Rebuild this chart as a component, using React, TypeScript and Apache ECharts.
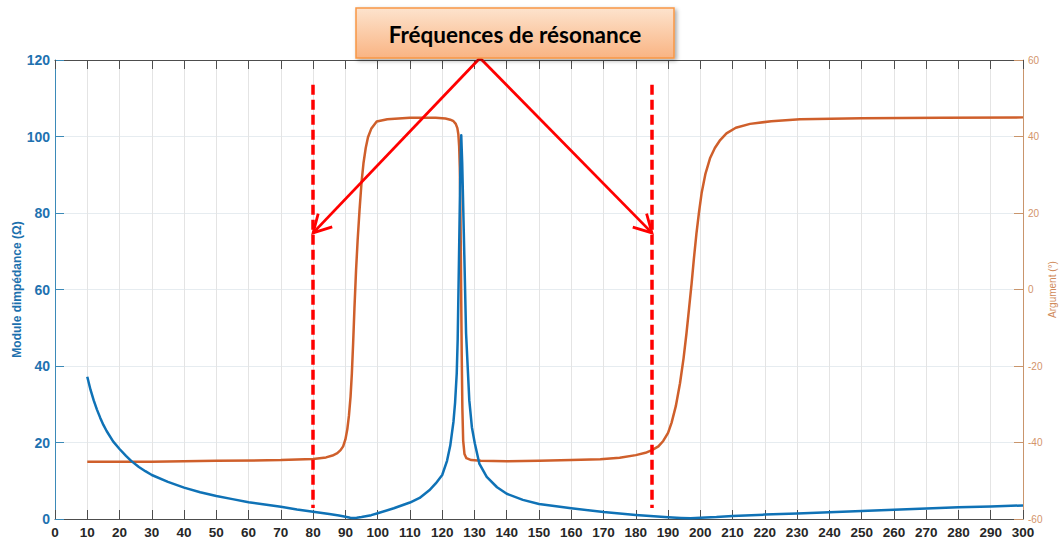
import React, { useEffect, useRef } from "react";
import * as echarts from "echarts";

// Frequency (x) and impedance modulus (left axis, Ω)
const impFreq = [10, 11, 12, 13, 14, 15, 16, 18, 20, 22, 23.6, 26, 28, 30, 35, 40, 45, 50, 55, 60, 65, 70, 75, 80, 85, 88, 90, 91.5, 92.3, 93.5, 95, 98, 100, 105, 110, 113, 116, 118, 120, 121.5, 122.5, 123.5, 124, 124.5, 124.8, 125.2, 125.6, 125.9, 126.2, 126.7, 127.4, 128.4, 129.2, 130.1, 131.5, 133.8, 137, 140, 145, 150, 160, 170, 180, 190, 194, 197, 200, 205, 210, 220, 230, 240, 250, 260, 270, 280, 290, 300];
const impVal = [37.2, 33.8, 31, 28.6, 26.5, 24.6, 23, 20.3, 18.3, 16.5, 15.2, 13.6, 12.5, 11.5, 9.7, 8.2, 7.0, 6.0, 5.2, 4.4, 3.8, 3.2, 2.5, 1.9, 1.3, 0.9, 0.6, 0.35, 0.25, 0.3, 0.5, 1.0, 1.5, 2.8, 4.3, 5.5, 7.5, 9.3, 11.5, 15.2, 19.2, 25.5, 30.5, 38, 47, 68, 90, 100.3, 93, 74.7, 48.5, 31, 24, 19.8, 14.5, 11, 8.3, 6.6, 5.0, 3.9, 2.8, 1.8, 1.05, 0.45, 0.28, 0.2, 0.3, 0.5, 0.8, 1.15, 1.45, 1.75, 2.1, 2.4, 2.75, 3.05, 3.3, 3.55];

// Frequency (x) and argument (right axis, °)
const argFreq = [10, 30, 50, 70, 80, 84, 86, 87.5, 88.5, 89.3, 90, 90.6, 91.1, 91.6, 92, 92.4, 92.8, 93.3, 93.8, 94.4, 95, 95.6, 96.3, 97, 98, 99.7, 103, 110, 118, 121, 122.5, 123.5, 124.2, 124.7, 125, 125.25, 125.45, 125.6, 125.75, 125.9, 126.05, 126.25, 126.5, 126.9, 127.5, 129, 132, 140, 150, 160, 169, 175, 180, 183, 185, 187, 188.5, 190, 191.1, 192.4, 193.7, 194.8, 195.7, 196.5, 197.3, 198, 198.8, 199.6, 200.4, 201.6, 203, 204.5, 206, 208.1, 211, 215.4, 222, 230.9, 250, 275, 300];
const argVal = [-45, -45, -44.8, -44.6, -44.3, -43.9, -43.4, -42.8, -42, -41, -39.2, -36.5, -33, -28, -22, -14, -5, 5, 13, 21, 28, 33, 37, 39.8, 42, 43.9, 44.5, 44.9, 44.9, 44.7, 44.4, 44, 43.3, 42.2, 40.6, 37.5, 32, 24, 12, -3, -17, -31, -39.5, -43, -44.1, -44.6, -44.8, -44.9, -44.8, -44.6, -44.4, -44, -43.3, -42.7, -42, -41, -39.6, -37.5, -34.8, -30.5, -24.5, -18, -11.5, -5, 1.6, 8, 14.7, 20.3, 25.2, 30.3, 34.3, 37, 38.9, 40.8, 42.3, 43.3, 44, 44.5, 44.8, 44.9, 45];

// Resonance frequencies marked by dashed lines
const resonanceFreqs = [80, 185];
const resonanceSpan = [113.5, 2.9];
const arrowTipLevel = 74.8;

const calloutTitle = "Fréquences de résonance";
const leftName = "Module dimpédance (Ω)";
const rightName = "Argument (°)";

const BLUE = "#0f72b6";
const ORANGE = "#cf5f2b";

export default function App() {
  const ref = useRef<HTMLDivElement>(null);
  useEffect(() => {
    if (!ref.current) return;
    const chart = echarts.init(ref.current, undefined, { renderer: "svg" });
    const impData = impFreq.map((f, i) => [f, impVal[i]]);
    const argData = argFreq.map((f, i) => [f, argVal[i]]);
    const labelFont = "'Liberation Sans', Arial, sans-serif";
    chart.setOption({
      animation: false,
      backgroundColor: "#ffffff",
      grid: { left: 55, right: 37, top: 60, bottom: 25, containLabel: false, outerBoundsMode: "none" },
      xAxis: [
        {
          type: "value",
          min: 0,
          max: 300,
          interval: 10,
          position: "bottom",
          axisLine: { show: true, onZero: false, lineStyle: { color: "#4d4d4d", width: 1 } },
          axisTick: { show: true, inside: true, length: 9, lineStyle: { color: "#4d4d4d" } },
          axisLabel: { color: "#262626", fontSize: 13.5, fontWeight: "bold", fontFamily: labelFont, margin: 6 },
          splitLine: { show: true, lineStyle: { color: "#e4e4e4", width: 1 } },
        },
        {
          type: "value",
          min: 0,
          max: 300,
          interval: 10,
          position: "top",
          axisLine: { show: true, onZero: false, lineStyle: { color: "#4d4d4d", width: 1 } },
          axisTick: { show: true, inside: true, length: 9, lineStyle: { color: "#4d4d4d" } },
          axisLabel: { show: false },
          splitLine: { show: false },
        },
      ],
      yAxis: [
        {
          type: "value",
          min: 0,
          max: 120,
          interval: 20,
          position: "left",
          name: leftName,
          nameLocation: "middle",
          nameRotate: 90,
          nameGap: 32,
          nameMoveOverlap: false,
          nameTextStyle: { color: "#1c70ad", fontSize: 12, fontWeight: "bold", fontFamily: labelFont },
          axisLine: { show: true, onZero: false, lineStyle: { color: "#3b8ab8", width: 1 } },
          axisTick: { show: true, inside: true, length: 9, lineStyle: { color: "#3b8ab8" } },
          axisLabel: { color: "#1f72b0", fontSize: 14, fontWeight: "bold", fontFamily: labelFont, margin: 5 },
          splitLine: { show: true, lineStyle: { color: "#e6ecf0", width: 1 } },
        },
        {
          type: "value",
          min: -60,
          max: 60,
          interval: 20,
          position: "right",
          name: rightName,
          nameLocation: "middle",
          nameRotate: 90,
          nameGap: 24,
          nameMoveOverlap: false,
          nameTextStyle: { color: "#d08a5a", fontSize: 10, fontFamily: labelFont },
          axisLine: { show: true, onZero: false, lineStyle: { color: "#c9956c", width: 1 } },
          axisTick: { show: true, inside: true, length: 9, lineStyle: { color: "#c9956c" } },
          axisLabel: { color: "#d3946a", fontSize: 10, fontFamily: labelFont, margin: 5 },
          splitLine: { show: false },
        },
      ],
      series: [
        {
          type: "line",
          name: "Module",
          xAxisIndex: 0,
          yAxisIndex: 0,
          data: impData,
          showSymbol: false,
          symbol: "none",
          smooth: false,
          lineStyle: { color: BLUE, width: 2.5, join: "round" },
          z: 3,
          markLine: {
            silent: true,
            symbol: ["none", "none"],
            label: { show: false },
            lineStyle: { color: "#ff0000", width: 3.5, type: [10, 5] },
            data: resonanceFreqs.map((f) => [
              { coord: [f, resonanceSpan[0]] },
              { coord: [f, resonanceSpan[1]] },
            ]),
          },
        },
        {
          type: "line",
          name: "Argument",
          xAxisIndex: 0,
          yAxisIndex: 1,
          data: argData,
          showSymbol: false,
          symbol: "none",
          smooth: false,
          lineStyle: { color: ORANGE, width: 2.5, join: "round" },
          z: 2,
        },
      ],
    });

    // Annotation: callout box and arrows to resonance lines
    const boxX = 356, boxY = 8, boxW = 318, boxH = 50;
    const start = [480, 58];
    const graphics: any[] = [
      {
        type: "rect",
        shape: { x: boxX, y: boxY, width: boxW, height: boxH },
        style: {
          fill: new echarts.graphic.LinearGradient(0, 0, 0, 1, [
            { offset: 0, color: "#fde3cd" },
            { offset: 1, color: "#f9b483" },
          ]),
          stroke: "#f79646",
          lineWidth: 1.5,
          shadowBlur: 4,
          shadowOffsetX: 2,
          shadowOffsetY: 2,
          shadowColor: "rgba(0,0,0,0.35)",
        },
        z: 100,
      },
      {
        type: "text",
        x: 515,
        y: boxY + boxH / 2 + 1,
        style: {
          text: calloutTitle,
          fill: "#000000",
          font: "bold 22.5px Lato, 'Open Sans', sans-serif",
          align: "center",
          verticalAlign: "middle",
        },
        z: 101,
      },
    ];
    resonanceFreqs.forEach((f) => {
      const tip = chart.convertToPixel({ xAxisIndex: 0, yAxisIndex: 0 }, [f, arrowTipLevel]) as number[];
      const dx = start[0] - tip[0];
      const dy = start[1] - tip[1];
      const len = Math.sqrt(dx * dx + dy * dy);
      const ux = dx / len, uy = dy / len;
      const ang = (29 * Math.PI) / 180;
      const hl = 20;
      const rot = (a: number) => [
        tip[0] + hl * (ux * Math.cos(a) - uy * Math.sin(a)),
        tip[1] + hl * (ux * Math.sin(a) + uy * Math.cos(a)),
      ];
      const a1 = rot(ang);
      const a2 = rot(-ang);
      graphics.push({
        type: "line",
        shape: { x1: start[0], y1: start[1], x2: tip[0], y2: tip[1] },
        style: { stroke: "#ff0000", lineWidth: 2.8 },
        z: 90,
      });
      graphics.push({
        type: "polyline",
        shape: { points: [a1, tip, a2] },
        style: { stroke: "#ff0000", lineWidth: 2.8, fill: "none" },
        z: 90,
      });
    });
    chart.setOption({ graphic: graphics });

    return () => chart.dispose();
  }, []);
  return (
    <div
      ref={ref}
      style={{ position: "fixed", left: 0, top: 0, width: 1060, height: 544, background: "#fff" }}
    />
  );
}
